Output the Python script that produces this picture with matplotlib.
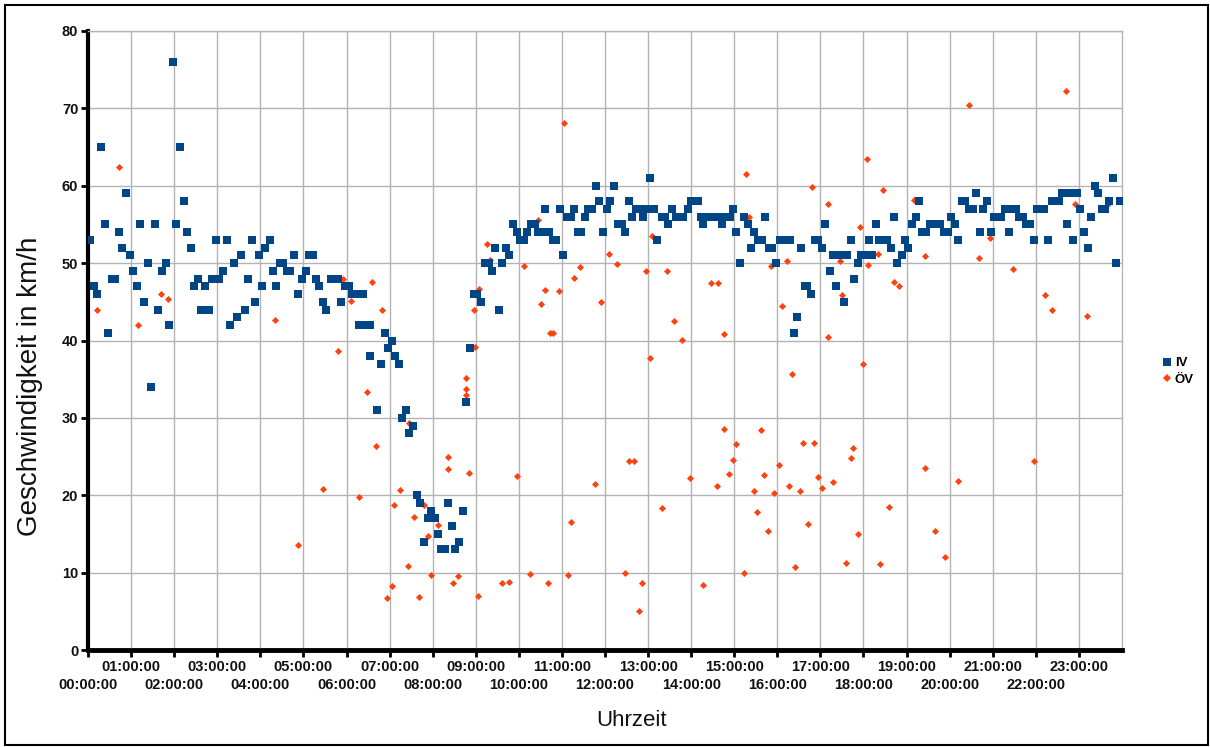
import numpy as np
import matplotlib
matplotlib.use("Agg")
import matplotlib.pyplot as plt
from matplotlib.patches import Rectangle
from matplotlib.lines import Line2D

# IV: Minuten seit Mitternacht, Geschwindigkeit km/h
iv_min = [
    3, 8, 13, 18, 23, 28, 33, 38, 43, 48, 53, 58, 63, 68, 73, 78, 83, 88, 93, 98,
    103, 108, 113, 118, 123, 128, 133, 138, 143, 148, 153, 158, 163, 163, 168, 173, 178, 183, 188, 193,
    198, 203, 208, 213, 218, 223, 228, 233, 238, 243,
    247, 253, 258, 262, 267, 272, 277, 282, 287, 292, 298, 303, 308, 313, 317, 322, 327, 332, 338, 343,
    348, 353, 358, 363, 368, 373, 378, 383, 378, 383, 388, 393, 393, 403, 408, 413, 418, 423, 428, 433,
    437, 443, 447, 453, 458, 463, 468, 473, 478, 483, 488, 492, 497, 501, 507, 511, 517, 522, 527, 532,
    537, 542, 547, 553, 558, 562, 567, 573, 577, 582, 587, 592, 597, 602, 607, 612, 617, 622, 627, 632,
    637, 642, 647, 652, 657, 662, 667, 672, 677, 682, 687, 692, 697, 702, 707, 712, 717,
    723, 727, 733, 738, 743, 748, 753, 758, 763, 768, 773, 778, 782, 788, 793, 799, 804, 808, 814, 819,
    825, 829, 835, 840, 845, 850, 853, 857, 862, 867, 872, 877, 883, 888, 894, 898, 903, 908, 913, 919,
    923, 928, 933, 938, 943, 948, 953, 958,
    964, 968, 973, 978, 983, 987, 993, 998, 1002, 1007, 1012, 1017, 1022, 1027, 1033, 1038, 1042, 1047, 1053, 1057,
    1062, 1067, 1073, 1077, 1082, 1087, 1092, 1097, 1102, 1107, 1113, 1118, 1123, 1127, 1133, 1138, 1142, 1147, 1153, 1157,
    1162, 1167, 1172, 1177, 1182,
    1187, 1192, 1197, 1202, 1207, 1212, 1217, 1222, 1227, 1232, 1237, 1242, 1247, 1252, 1257, 1262, 1267, 1272, 1277, 1282,
    1287, 1292, 1297, 1302, 1307, 1312, 1317, 1322, 1327, 1332, 1337, 1342, 1347, 1352, 1357, 1362, 1367, 1372, 1377, 1363,
    1372, 1382, 1387, 1392, 1397, 1402, 1407, 1412, 1417, 1422, 1427, 1432, 1437,
]
iv_kmh = [
    53, 47, 46, 65, 55, 41, 48, 48, 54, 52, 59, 51, 49, 47, 55, 45, 50, 34, 55, 44,
    49, 50, 42, 76, 55, 65, 58, 54, 52, 47, 48, 44, 44, 47, 44, 48, 53, 48, 49, 53,
    42, 50, 43, 51, 44, 48, 53, 45, 51, 47,
    52, 53, 49, 47, 50, 50, 49, 49, 51, 46, 48, 49, 51, 51, 48, 47, 45, 44, 48, 48,
    48, 45, 47, 47, 46, 46, 46, 46, 42, 42, 42, 42, 38, 31, 37, 41, 39, 40, 38, 37,
    30, 31, 28, 29, 20, 19, 14, 17, 18, 17, 15, 13, 13, 19, 16, 13, 14, 18, 32, 39,
    46, 46, 45, 50, 50, 49, 52, 44, 50, 52, 51, 55, 54, 53, 53, 54, 55, 55, 54, 54,
    57, 54, 53, 53, 57, 51, 56, 56, 57, 54, 54, 56, 57, 57, 60, 58, 54,
    57, 58, 60, 55, 55, 54, 58, 56, 57, 57, 56, 57, 61, 57, 53, 56, 56, 55, 57, 56,
    56, 56, 57, 58, 58, 58, 56, 55, 56, 56, 56, 56, 55, 56, 56, 57, 54, 50, 56, 55,
    52, 54, 53, 53, 56, 52, 52, 50,
    53, 53, 53, 53, 41, 43, 52, 47, 47, 46, 53, 53, 52, 55, 49, 51, 47, 51, 45, 51,
    53, 48, 50, 51, 51, 53, 51, 55, 53, 53, 53, 52, 56, 50, 51, 53, 52, 55, 56, 58,
    54, 54, 55, 55, 55,
    55, 54, 54, 56, 55, 53, 58, 58, 57, 57, 59, 54, 57, 58, 54, 56, 56, 56, 57, 54,
    57, 57, 56, 56, 55, 55, 53, 57, 57, 57, 53, 58, 58, 58, 59, 59, 59, 59, 59, 55,
    53, 57, 54, 52, 56, 60, 59, 57, 57, 58, 61, 50, 58,
]

# ÖV: Minuten seit Mitternacht, Geschwindigkeit km/h
ov_min = [
    12, 43, 70, 102, 111,
    261, 292, 327, 348, 355, 366, 377, 388, 396, 401, 410, 417, 423, 426, 435, 445, 447, 454, 461, 468, 473, 478,
    487, 502, 502, 509, 515, 526, 526, 527, 531, 537, 539, 543, 545, 555, 560, 576, 587, 597, 607, 616, 627, 631, 636,
    641, 643, 648, 656, 663, 668, 672, 677, 685, 706, 715,
    726, 737, 748, 753, 760, 767, 772, 777, 782, 786, 800, 806, 816, 827, 838, 857, 867, 877, 876, 886,
    886, 893, 898, 903, 913, 917, 921, 928, 932, 937, 942, 947, 951, 956,
    962, 967, 973, 976, 980, 984, 992, 996, 1003, 1008, 1011, 1016, 1022, 1030, 1031, 1037, 1047, 1050, 1055, 1063,
    1066, 1073, 1075, 1080, 1085, 1086, 1100, 1103, 1107, 1115, 1122, 1130, 1150, 1166, 1166, 1180, 1194,
    1211, 1227, 1241, 1256, 1288, 1317, 1333, 1343, 1362, 1374, 1391, 1421,
]
ov_kmh = [
    44.0, 62.4, 42.0, 46.0, 45.4,
    42.7, 13.6, 20.8, 38.6, 47.9, 45.1, 19.8, 33.3, 47.6, 26.4, 44.0, 6.7, 8.3, 18.8, 20.7, 10.8, 29.4, 17.2, 6.8, 18.7, 14.7, 9.7,
    16.2, 24.9, 23.4, 8.7, 9.5, 33.7, 33.0, 35.2, 22.9, 43.9, 39.2, 7.0, 46.6, 52.5, 50.4, 8.6, 8.8, 22.5, 49.6, 9.8, 55.6, 44.7, 46.5,
    8.6, 41.0, 41.0, 46.4, 68.1, 9.7, 16.6, 48.1, 49.5, 21.5, 45.0,
    51.2, 49.9, 9.9, 24.4, 24.4, 5.0, 8.7, 49.0, 37.7, 53.5, 18.4, 49.0, 42.5, 40.1, 22.2, 8.4, 47.4, 47.4, 21.2, 40.9,
    28.5, 22.7, 24.5, 26.6, 10.0, 61.5, 55.9, 20.5, 17.8, 28.4, 22.6, 15.4, 49.6, 20.3,
    23.9, 44.4, 50.3, 21.2, 35.7, 10.7, 20.5, 26.7, 16.3, 59.8, 26.7, 22.4, 20.9, 40.4, 57.7, 21.7, 50.3, 45.9, 11.3, 24.8,
    26.1, 15.0, 54.7, 37.0, 63.5, 49.8, 51.2, 11.1, 59.5, 18.5, 47.5, 47.0, 58.1, 50.9, 23.5, 15.4, 12.0,
    21.9, 70.5, 50.6, 53.2, 49.3, 24.4, 45.9, 44.0, 72.2, 57.6, 43.2, 57.6,
]

odd_hours = list(range(1, 24, 2))
even_hours = list(range(0, 24, 2))
odd_labels = ["%02d:00:00" % h for h in odd_hours]
even_labels = ["%02d:00:00" % h for h in even_hours]

blue = "#004586"
red = "#ff420e"
grid_col = "#b3b3b3"

fig = plt.figure(figsize=(12.1, 7.47), dpi=100)
ax = fig.add_axes([88 / 1210, 1 - 650 / 747, 1034 / 1210, 619 / 747])

ax.scatter(np.array(ov_min) / 60, ov_kmh, marker="D", s=13, color=red, linewidths=0, zorder=3)
ax.scatter(np.array(iv_min) / 60, iv_kmh, marker="s", s=30, color=blue, linewidths=0, zorder=4)

ax.set_xlim(0, 24)
ax.set_ylim(0, 80)
ax.set_yticks(range(0, 81, 10))
ax.set_xticks(odd_hours)
ax.set_xticklabels(odd_labels)
ax.set_xticks(even_hours, minor=True)
ax.set_xticklabels(even_labels, minor=True)
for h in range(1, 24):
    ax.axvline(h, color=grid_col, lw=1.0, zorder=1)
ax.grid(True, which="major", axis="y", color=grid_col, lw=1.0)
ax.set_axisbelow(True)

for lab in ax.get_xticklabels() + ax.get_xticklabels(minor=True) + ax.get_yticklabels():
    lab.set_fontfamily("Liberation Sans")
    lab.set_fontweight("bold")
    lab.set_fontsize(10.5)
    lab.set_color("#111111")
ax.tick_params(axis="x", which="major", length=5, width=2, color="black", pad=2)
ax.tick_params(axis="x", which="minor", length=5, width=2, color="black", pad=15.5)
ax.tick_params(axis="y", length=5, width=2, color="black", pad=2)

ax.spines["left"].set_linewidth(3)
ax.spines["bottom"].set_linewidth(3.5)
ax.spines["top"].set_color(grid_col)
ax.spines["right"].set_color(grid_col)
ax.spines["top"].set_linewidth(1)
ax.spines["right"].set_linewidth(1)

fig.text(632 / 1210, 1 - 721 / 747, "Uhrzeit", ha="center", va="center",
         fontsize=16, family="Liberation Sans", color="#111111")
fig.text(30 / 1210, 1 - 386 / 747, "Geschwindigkeit in km/h", ha="center", va="center",
         rotation=90, fontsize=20, family="Liberation Sans", color="#111111")

handles = [
    Line2D([], [], marker="s", ls="", color=blue, markersize=5.5, markeredgewidth=0),
    Line2D([], [], marker="D", ls="", color=red, markersize=3.8, markeredgewidth=0),
]
ax.legend(handles, ["IV", "ÖV"], loc="center left", bbox_to_anchor=(1.035, 0.45),
          frameon=False, handlelength=0.6, handletextpad=0.25, labelspacing=0.3,
          borderaxespad=0, prop={"family": "Liberation Sans", "weight": "bold", "size": 9.5})

fig.patches.append(Rectangle((5 / 1210, 2 / 747), 1203 / 1210, 740 / 747, transform=fig.transFigure,
                             fill=False, edgecolor="black", lw=1.5))

fig.savefig("out.png", dpi=100)
